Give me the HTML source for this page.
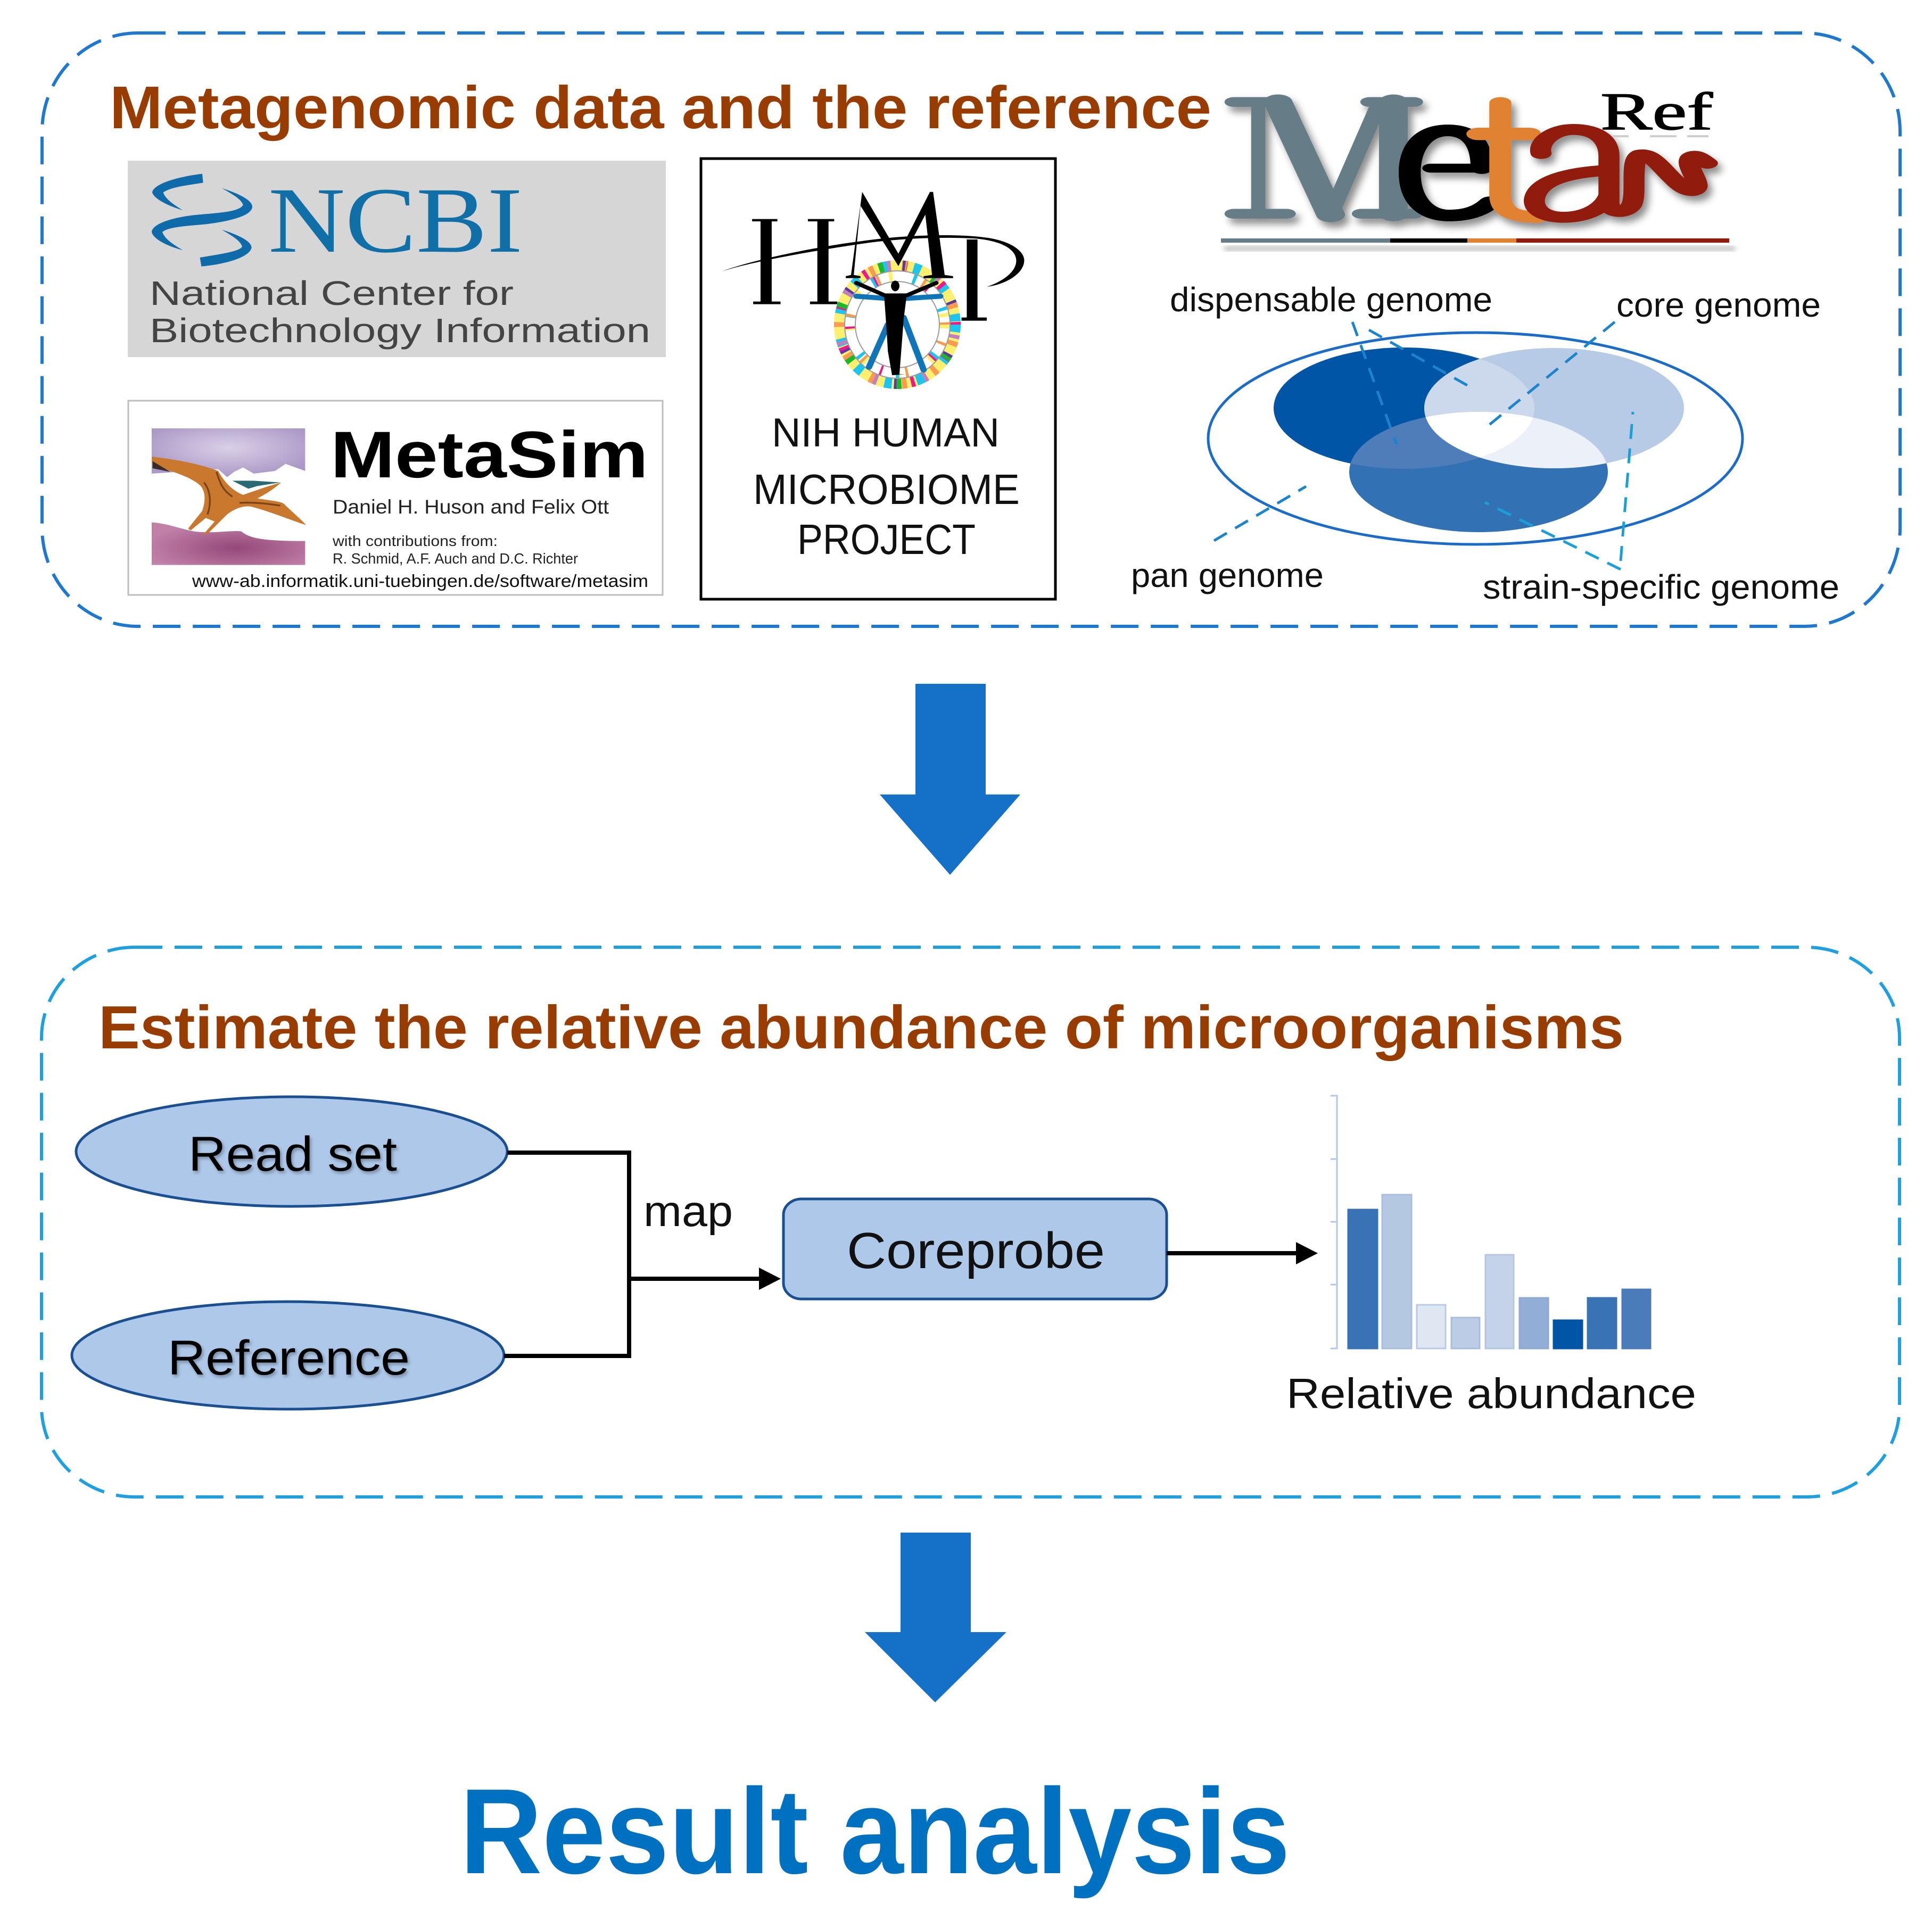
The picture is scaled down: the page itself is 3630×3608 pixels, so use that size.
<!DOCTYPE html>
<html lang="en">
<head>
<meta charset="utf-8">
<title>Metagenomic workflow</title>
<style>
html,body{margin:0;padding:0;background:#fff;width:3630px;height:3608px;overflow:hidden}
svg{display:block}
text{font-family:"Liberation Sans",sans-serif}
.serif{font-family:"Liberation Serif",serif}
.title{font-weight:700;fill:#983c02}
.lab{fill:#111}
</style>
</head>
<body>
<svg xmlns="http://www.w3.org/2000/svg" width="3630" height="3608" viewBox="0 0 3630 3608">
<defs>
  <filter id="sh" x="-10%" y="-10%" width="125%" height="130%"><feDropShadow dx="8" dy="10" stdDeviation="7" flood-color="#000" flood-opacity=".45"/></filter>
  <filter id="sh2" x="-5%" y="-10%" width="110%" height="130%"><feDropShadow dx="3" dy="4" stdDeviation="3" flood-color="#000" flood-opacity=".3"/></filter>
  <filter id="bl"><feGaussianBlur stdDeviation="5"/></filter>
  <radialGradient id="sky" cx=".5" cy=".4" r=".6"><stop offset="0" stop-color="#d9d0e7"/><stop offset="1" stop-color="#ab98c6"/></radialGradient>
  <radialGradient id="pink" cx=".55" cy=".6" r=".6"><stop offset="0" stop-color="#94487a"/><stop offset="1" stop-color="#c080a8"/></radialGradient>
  <clipPath id="cDark"><ellipse cx="2638" cy="767" rx="245" ry="114"/></clipPath>
  <clipPath id="cBot"><ellipse cx="2778" cy="887" rx="243" ry="113"/></clipPath>
  <clipPath id="cLight"><ellipse cx="2920" cy="767" rx="244" ry="113"/></clipPath>
</defs>

<rect width="3630" height="3608" fill="#fff"/>

<!-- dashed panels -->
<rect x="79" y="62" width="3491" height="1115" rx="180" ry="185" fill="none" stroke="#1f78d0" stroke-width="6" stroke-dasharray="52 23"/>
<rect x="78" y="1780" width="3491" height="1033" rx="175" ry="170" fill="none" stroke="#1e9fe0" stroke-width="6" stroke-dasharray="52 23"/>

<!-- titles -->
<text class="title" x="206" y="241" font-size="113" textLength="2070" lengthAdjust="spacingAndGlyphs">Metagenomic data and the reference</text>
<text class="title" x="185" y="1970" font-size="114" textLength="2866" lengthAdjust="spacingAndGlyphs">Estimate the relative abundance of microorganisms</text>

<!-- NCBI -->
<rect x="240" y="302" width="1011" height="369" fill="#d6d6d6"/>
<g transform="translate(260,310) scale(.33333)" fill="#0e6aa8">
  <path d="M360 50 L365 100 C270 115 180 125 140 155 C150 190 200 225 250 255 C180 235 90 195 78 155 C85 105 230 65 360 50Z"/>
  <path d="M470 130 C560 160 640 195 642 235 C640 290 500 320 370 335 C260 345 170 350 135 378 C150 420 200 450 250 480 C170 460 85 420 75 378 C80 325 220 290 340 280 C450 270 570 265 590 225 C580 190 520 160 470 130Z"/>
  <path d="M470 365 C550 390 635 425 638 465 C630 520 490 560 355 572 L347 522 C440 505 570 490 585 460 C575 425 520 395 470 365Z"/>
</g>
<text class="serif" x="504" y="473" font-size="176" fill="#0f6fa6" textLength="478" lengthAdjust="spacingAndGlyphs">NCBI</text>
<text x="281" y="573" font-size="64" fill="#444" textLength="684" lengthAdjust="spacingAndGlyphs">National Center for</text>
<text x="281" y="643" font-size="64" fill="#444" textLength="941" lengthAdjust="spacingAndGlyphs">Biotechnology Information</text>

<!-- MetaSim -->
<rect x="241" y="753" width="1004" height="365" fill="#fff" stroke="#bdbdbd" stroke-width="3"/>
<g transform="translate(270,790) scale(.33333)">
  <path d="M45 45 H910 V285 L800 245 L740 285 L620 300 L560 265 L510 290 L470 320 L420 275 L45 300Z" fill="url(#sky)"/>
  <path d="M45 575 C130 580 200 610 280 625 C380 640 480 620 550 625 C600 670 700 680 910 680 V815 H45Z" fill="url(#pink)"/>
  <path d="M45 205 C150 215 300 240 420 285 C450 340 490 390 560 420 C620 400 700 370 775 350 C730 390 680 420 640 440 C700 450 770 455 790 470 C840 520 890 560 915 590 C850 570 700 510 620 490 C560 470 490 510 460 540 L370 630 L330 650 L400 570 L350 550 L265 620 L250 610 L330 510 C350 450 350 390 310 360 C250 310 130 280 50 250Z" fill="#c9782e"/>
  <path d="M500 340 L620 340 L770 350 L640 370 L590 385Z" fill="#2a6a72"/>
  <path d="M50 230 L150 290 L50 270Z" fill="#3a2a28"/>
  <path d="M410 290 C430 350 440 390 500 430 M340 350 C380 400 380 470 360 530 M540 465 C620 460 700 470 770 480" fill="none" stroke="#7a4418" stroke-width="10"/>
</g>
<text x="621" y="897" font-size="124" font-weight="700" fill="#000" textLength="597" lengthAdjust="spacingAndGlyphs">MetaSim</text>
<text x="625" y="965" font-size="37" fill="#222" textLength="519" lengthAdjust="spacingAndGlyphs">Daniel H. Huson and Felix Ott</text>
<text x="625" y="1026" font-size="28" fill="#222" textLength="310" lengthAdjust="spacingAndGlyphs">with contributions from:</text>
<text x="625" y="1059" font-size="28" fill="#222" textLength="461" lengthAdjust="spacingAndGlyphs">R. Schmid, A.F. Auch and D.C. Richter</text>
<text x="361" y="1103" font-size="33" fill="#111" textLength="857" lengthAdjust="spacingAndGlyphs">www-ab.informatik.uni-tuebingen.de/software/metasim</text>

<!-- HMP -->
<rect x="1317" y="298" width="666" height="828" fill="#fff" stroke="#000" stroke-width="5"/>
<!-- ring -->
<g fill="none">
  <ellipse cx="1686" cy="610" rx="109" ry="111" stroke="#fdf070" stroke-width="20"/>
  <g stroke-width="20">
    <ellipse cx="1686" cy="610" rx="109" ry="111" stroke="#1cc4ee" stroke-dasharray="14 47"/>
    <ellipse cx="1686" cy="610" rx="109" ry="111" stroke="#f0178c" stroke-dasharray="7 71" stroke-dashoffset="16"/>
    <ellipse cx="1686" cy="610" rx="109" ry="111" stroke="#fb9a50" stroke-dasharray="9 53" stroke-dashoffset="31"/>
    <ellipse cx="1686" cy="610" rx="109" ry="111" stroke="#1cb82c" stroke-dasharray="9 97" stroke-dashoffset="47"/>
    <ellipse cx="1686" cy="610" rx="109" ry="111" stroke="#5a3aa0" stroke-dasharray="5 113" stroke-dashoffset="62"/>
    <ellipse cx="1686" cy="610" rx="109" ry="111" stroke="#c080c0" stroke-dasharray="7 89" stroke-dashoffset="77"/>
  </g>
  <g stroke-width="20">
    <ellipse cx="1686" cy="610" rx="89" ry="91" stroke="#fdf070" stroke-dasharray="7 61"/>
    <ellipse cx="1686" cy="610" rx="89" ry="91" stroke="#1cc4ee" stroke-dasharray="6 73" stroke-dashoffset="20"/>
    <ellipse cx="1686" cy="610" rx="89" ry="91" stroke="#f0178c" stroke-dasharray="4 101" stroke-dashoffset="40"/>
    <ellipse cx="1686" cy="610" rx="89" ry="91" stroke="#fb9a50" stroke-dasharray="5 83" stroke-dashoffset="55"/>
  </g>
  <ellipse cx="1686" cy="610" rx="99" ry="101" stroke="#9a9a9a" stroke-width="2"/>
  <ellipse cx="1686" cy="610" rx="79" ry="81" stroke="#9a9a9a" stroke-width="2"/>
</g>
<!-- HMP letters + figure, drawn in crop space -->
<g transform="translate(1340,340) scale(.3954,.33333)" fill="#000">
  <path d="M225 228 H185 V215 H305 V228 H278 V680 H320 V695 H190 V680 H225Z"/>
  <path d="M495 228 H450 V215 H575 V228 H548 V680 H590 V695 H460 V680 H495Z"/>
  <path d="M1205 330 H1256 V770 H1300 V788 H1180 V770 H1205Z"/>
  <path d="M40 510 C200 440 500 370 700 340 C900 305 1150 295 1300 320 C1420 340 1480 400 1478 450 C1475 530 1380 585 1300 597 C1380 565 1440 510 1440 450 C1440 390 1380 340 1250 325 C1100 315 900 320 700 355 C500 390 200 450 40 510Z"/>
  <path d="M708 62 L880 410 L1030 62 L1045 62 L1100 530 L1140 537 V548 H1000 V537 L1040 530 L1008 190 L880 480 L700 140 L668 530 L700 537 V548 H630 V537 L655 530Z"/>
  <g fill="none" stroke-linecap="round">
    <path d="M680 650 L820 662 M920 662 L1080 650" stroke="#0f74b8" stroke-width="28"/>
    <path d="M830 810 L740 1050 M905 770 L1000 1065" stroke="#0f74b8" stroke-width="30"/>
    <path d="M680 575 L815 645 L920 645 L1060 575" stroke="#000" stroke-width="22"/>
  </g>
  <ellipse cx="865" cy="592" rx="20" ry="30"/>
  <path d="M812 640 H920 L905 780 L900 860 L885 1090 L915 1090 L850 1095 L830 960 L825 860 Z"/>
</g>
<text x="1450" y="839" font-size="76" fill="#111" textLength="428" lengthAdjust="spacingAndGlyphs">NIH HUMAN</text>
<text x="1415" y="947" font-size="80" fill="#111" textLength="501" lengthAdjust="spacingAndGlyphs">MICROBIOME</text>
<text x="1498" y="1041" font-size="80" fill="#111" textLength="335" lengthAdjust="spacingAndGlyphs">PROJECT</text>

<!-- MetaRef logo -->
<g filter="url(#sh)">
  <g transform="translate(2280,160) scale(.6378,.33333)" fill="none" stroke-linecap="round" stroke-linejoin="round">
    <g stroke="#667d88">
      <path d="M60 95 L175 95 M60 725 L215 725 M460 95 L590 95 M435 725 L590 725" stroke-width="55"/>
      <path d="M132 95 L132 725" stroke-width="42"/>
      <path d="M190 95 L345 730" stroke-width="85"/>
      <path d="M345 730 L490 95" stroke-width="50"/>
      <path d="M530 95 L530 725" stroke-width="85"/>
    </g>
    <g stroke="#000">
      <path d="M640 468 L790 468" stroke-width="50"/>
      <path d="M790 468 C790 330 760 255 690 255 C610 255 578 370 578 490 C578 640 620 735 695 735 C740 735 785 715 815 660" stroke-width="65"/>
    </g>
    <g stroke="#e08232">
      <path d="M845 100 L845 620 C845 710 880 740 950 745" stroke-width="65"/>
      <path d="M780 275 L930 275" stroke-width="70"/>
    </g>
    <g stroke="#911a0c" stroke-width="62">
      <path d="M965 385 C955 320 1000 250 1060 250 C1130 250 1165 310 1165 400 L1165 660 C1165 720 1210 730 1230 680 C1250 620 1225 430 1255 395 C1290 380 1320 470 1360 540 C1390 600 1420 610 1425 570 C1425 520 1390 450 1405 410 C1420 385 1440 420 1455 440"/>
      <path d="M1165 480 C1060 490 950 530 945 650 C945 720 990 745 1030 745 C1100 745 1150 690 1165 620"/>
    </g>
  </g>
</g>
<text class="serif" x="3007" y="243" font-size="100" fill="#000" stroke="#000" stroke-width="1.5" textLength="211" lengthAdjust="spacingAndGlyphs">Ref</text>
<g fill="#cfcfcf"><rect x="3030" y="254" width="30" height="4"/><rect x="3100" y="254" width="50" height="4"/><rect x="3170" y="254" width="40" height="4"/></g>
<rect x="2300" y="462" width="960" height="10" fill="#999" opacity=".6" filter="url(#bl)"/>
<rect x="2294" y="448" width="318" height="8" fill="#667d88"/>
<rect x="2612" y="448" width="145" height="8" fill="#000"/>
<rect x="2757" y="448" width="92" height="8" fill="#e08232"/>
<rect x="2849" y="448" width="400" height="8" fill="#911a0c"/>

<!-- Venn -->
<ellipse cx="2772" cy="824" rx="502" ry="199" fill="#fff" stroke="#1a6cc8" stroke-width="5"/>
<ellipse cx="2638" cy="767" rx="245" ry="114" fill="#0055a6"/>
<ellipse cx="2778" cy="887" rx="243" ry="113" fill="#3371b5"/>
<g clip-path="url(#cDark)"><ellipse cx="2778" cy="887" rx="243" ry="113" fill="#4e7dba"/></g>
<ellipse cx="2920" cy="767" rx="244" ry="113" fill="#b8cbe6"/>
<g clip-path="url(#cDark)"><ellipse cx="2920" cy="767" rx="244" ry="113" fill="#ccd9ec"/></g>
<g clip-path="url(#cBot)"><ellipse cx="2920" cy="767" rx="244" ry="113" fill="#ebf0f9"/></g>
<g clip-path="url(#cBot)"><g clip-path="url(#cDark)"><ellipse cx="2920" cy="767" rx="244" ry="113" fill="#fff"/></g></g>

<g fill="none" stroke="#1b84cc" stroke-width="5" stroke-dasharray="28 18">
  <path d="M2541 605 L2624 835"/>
  <path d="M2572 620 L2769 731"/>
  <path d="M3034 605 L2790 805"/>
  <path d="M3045 1070 L2790 944" stroke="#1b9fd8"/>
  <path d="M3045 1054 L3068 774" stroke="#1b9fd8"/>
  <path d="M2281 1016 L2454 914"/>
</g>

<text class="lab" x="2198" y="585" font-size="64" textLength="606" lengthAdjust="spacingAndGlyphs">dispensable genome</text>
<text class="lab" x="3037" y="595" font-size="64" textLength="384" lengthAdjust="spacingAndGlyphs">core genome</text>
<text class="lab" x="2125" y="1103" font-size="64" textLength="362" lengthAdjust="spacingAndGlyphs">pan genome</text>
<text class="lab" x="2786" y="1125" font-size="64" textLength="670" lengthAdjust="spacingAndGlyphs">strain-specific genome</text>

<!-- big arrows -->
<polygon points="1720,1285 1852,1285 1852,1493 1917,1493 1785,1644 1653,1493 1720,1493" fill="#1570c8"/>
<polygon points="1692,2880 1824,2880 1824,3067 1891,3067 1757,3199 1625,3067 1692,3067" fill="#1570c8"/>

<!-- flow -->
<ellipse cx="548" cy="2164" rx="405" ry="103" fill="#aec8e9" stroke="#1a4f92" stroke-width="5"/>
<ellipse cx="541" cy="2547" rx="406" ry="101" fill="#aec8e9" stroke="#1a4f92" stroke-width="5"/>
<text x="354" y="2200" font-size="92" fill="#000" textLength="392" lengthAdjust="spacingAndGlyphs" filter="url(#sh2)">Read set</text>
<text x="315" y="2583" font-size="92" fill="#000" textLength="455" lengthAdjust="spacingAndGlyphs" filter="url(#sh2)">Reference</text>
<path d="M953 2166 H1182 V2548 H947" fill="none" stroke="#000" stroke-width="8"/>
<path d="M1182 2403 H1430" fill="none" stroke="#000" stroke-width="8"/>
<polygon points="1426,2382 1467,2403 1426,2424" fill="#000"/>
<text x="1209" y="2304" font-size="82" fill="#111" textLength="168" lengthAdjust="spacingAndGlyphs">map</text>

<rect x="1472" y="2253" width="720" height="188" rx="34" ry="30" fill="#aec8e9" stroke="#1a4f92" stroke-width="5"/>
<text x="1591" y="2383" font-size="96" fill="#111" textLength="485" lengthAdjust="spacingAndGlyphs">Coreprobe</text>
<path d="M2192 2355 H2440" fill="none" stroke="#000" stroke-width="8"/>
<polygon points="2435,2334 2476,2355 2435,2376" fill="#000"/>

<!-- chart -->
<path d="M2500 2059 H2512 V2534 H2500 M2500 2178 H2512 M2500 2296 H2512 M2500 2414 H2512" fill="none" stroke="#b4c7e7" stroke-width="3"/>
<g stroke-width="3">
  <rect x="2533" y="2273" width="55" height="261" fill="#3a73b5" stroke="#3a73b5"/>
  <rect x="2597" y="2245" width="55" height="289" fill="#b4c8e2" stroke="#a9bedc"/>
  <rect x="2662" y="2452" width="54" height="82" fill="#dfe7f3" stroke="#b9cbe4"/>
  <rect x="2727" y="2476" width="53" height="58" fill="#bccce6" stroke="#a9bedc"/>
  <rect x="2791" y="2358" width="53" height="176" fill="#c5d3e8" stroke="#b4c7e0"/>
  <rect x="2855" y="2439" width="54" height="95" fill="#93aed6" stroke="#8da9d2"/>
  <rect x="2919" y="2481" width="54" height="53" fill="#0055a6" stroke="#0055a6"/>
  <rect x="2983" y="2439" width="54" height="95" fill="#3a73b5" stroke="#3a73b5"/>
  <rect x="3048" y="2423" width="53" height="111" fill="#4b7cba" stroke="#4b7cba"/>
</g>
<text x="2417" y="2646" font-size="80" fill="#111" textLength="770" lengthAdjust="spacingAndGlyphs">Relative abundance</text>

<!-- result -->
<text x="864" y="3520" font-size="228" font-weight="700" fill="#0070c0" textLength="1560" lengthAdjust="spacingAndGlyphs">Result analysis</text>
</svg>
</body>
</html>
